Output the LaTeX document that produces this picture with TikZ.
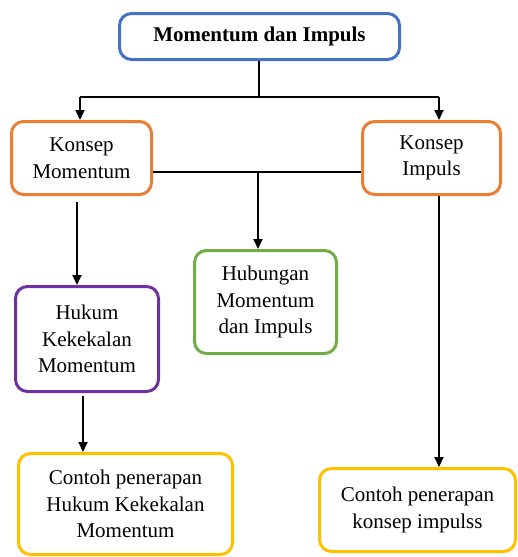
\documentclass[tikz,border=0pt]{standalone}
\usepackage{fontspec}
\setmainfont{Liberation Serif}
\usetikzlibrary{arrows.meta}
\definecolor{cblue}{HTML}{4472C4}
\definecolor{corange}{HTML}{ED7D31}
\definecolor{cgreen}{HTML}{70AD47}
\definecolor{cpurple}{HTML}{7030A0}
\definecolor{cyellow}{HTML}{FFC000}
\tikzset{
  box/.style={draw, line width=3pt, rounded corners=12pt, align=center, inner sep=2pt,
    font=\fontsize{21}{26.5}\selectfont, text=black},
  conn/.style={line width=1.8pt, draw=black},
  arr/.style={conn, -{Triangle[length=10pt,width=9pt]}},
}
\begin{document}
\begin{tikzpicture}[x=1pt,y=-1pt]
\useasboundingbox (0,0) rectangle (518,557);
\node[box, draw=cblue, minimum width=280pt, minimum height=46pt, font=\fontsize{21}{26.5}\selectfont\bfseries] (top) at (259.5,36.5) {Momentum dan Impuls};
\node[box, draw=corange, minimum width=140pt, minimum height=73pt] (km) at (81.5,158) {Konsep\\Momentum};
\node[box, draw=corange, minimum width=138pt, minimum height=73pt] (ki) at (431.5,158) {Konsep\\Impuls};
\node[box, draw=cgreen, minimum width=142pt, minimum height=103pt] (hmi) at (265.5,302) {Hubungan\\Momentum\\dan Impuls};
\node[box, draw=cpurple, minimum width=143pt, minimum height=105pt] (hk) at (87,339) {Hukum\\Kekekalan\\Momentum};
\node[box, draw=cyellow, minimum width=214pt, minimum height=101pt] (cl) at (125.5,504) {Contoh penerapan\\Hukum Kekekalan\\Momentum};
\node[box, draw=cyellow, minimum width=196pt, minimum height=83pt] (cr) at (417.5,510) {Contoh penerapan\\konsep impulss};
% top connectors
\coordinate (tj) at (259,97);
\coordinate (tl) at (80,97);
\coordinate (tr) at (439,97);
\draw[conn] ([xshift=-0.5pt]top.south) -- (tj);
\draw[arr] (tl) -- (tr) (tl) -- (tl |- km.north);
\draw[arr] (tr) -- (tr |- ki.north);
% middle connectors
\coordinate (mj) at (258,172);
\draw[conn] (km.east |- mj) -- (ki.west |- mj);
\draw[arr] (mj) -- (mj |- hmi.north);
% left column
\coordinate (l1) at (77,202);
\draw[arr] (l1) -- (l1 |- hk.north);
\coordinate (l2) at (83,396);
\draw[arr] (l2) -- (l2 |- cl.north);
% right column
\coordinate (r1) at (439,196);
\draw[arr] (r1) -- (r1 |- cr.north);
\end{tikzpicture}
\end{document}
